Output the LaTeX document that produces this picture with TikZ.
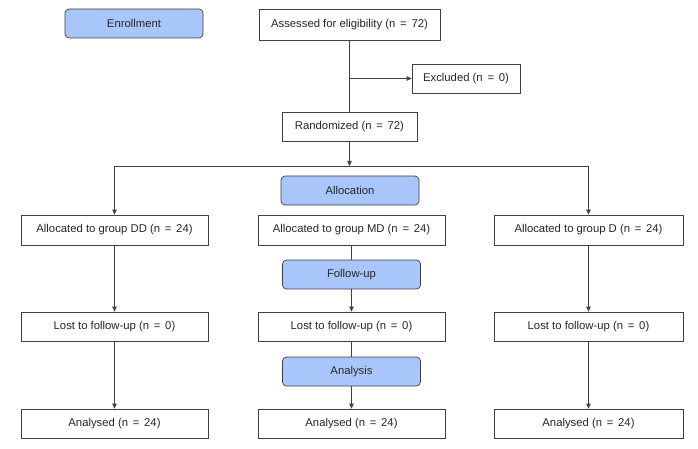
\documentclass[tikz,border=0pt]{standalone}
\usepackage{fontspec}
\setmainfont{Liberation Sans}
\usetikzlibrary{arrows.meta}
\definecolor{phase}{HTML}{A9C6FA}
\definecolor{ln}{HTML}{404040}
\newcommand{\eqn}{\hspace{0.42em}=\hspace{0.42em}}
\begin{document}
\begin{tikzpicture}[x=1pt,y=-1pt,
  box/.style={draw=ln,line width=0.7pt,fill=white,rectangle,inner sep=0pt,font=\fontsize{11.3}{12}\selectfont,text=black!85},
  phasebox/.style={draw=ln,line width=0.7pt,fill=phase,rounded corners=4pt,inner sep=0pt,font=\fontsize{11.3}{12}\selectfont,text=black!85,minimum width=138pt,minimum height=29pt},
  conn/.style={draw=ln,line width=0.7pt},
  arr/.style={conn,-{Triangle[length=5pt,width=4.5pt]}}]
\useasboundingbox (0,0) rectangle (698,449);
\node[phasebox] (enr) at (134,23.5) {Enrollment};
\node[box,minimum width=181pt,minimum height=31pt] (ass) at (349.5,24.5) {Assessed for eligibility (n\eqn 72)};
\node[box,minimum width=108pt,minimum height=29pt] (exc) at (466,78.5) {Excluded (n\eqn 0)};
\node[box,minimum width=135pt,minimum height=29pt] (ran) at (349.5,126.5) {Randomized (n\eqn 72)};
\coordinate (split) at (349.5,166);
\coordinate (sl) at (114.5,166);
\coordinate (sr) at (588.5,166);
\coordinate (ex) at (349.5,78.5);
\node[phasebox] (alloc) at (350,190.5) {Allocation};
\node[box,minimum width=187pt,minimum height=30pt] (a1) at (114.5,230) {Allocated to group DD (n\eqn 24)};
\node[box,minimum width=187pt,minimum height=30pt] (a2) at (351.5,230) {Allocated to group MD (n\eqn 24)};
\node[box,minimum width=189pt,minimum height=30pt] (a3) at (588.5,230) {Allocated to group D (n\eqn 24)};
\node[phasebox] (fol) at (351.5,274.5) {Follow-up};
\node[box,minimum width=187pt,minimum height=29pt] (l1) at (114.5,326.5) {Lost to follow-up (n\eqn 0)};
\node[box,minimum width=187pt,minimum height=29pt] (l2) at (351.5,326.5) {Lost to follow-up (n\eqn 0)};
\node[box,minimum width=189pt,minimum height=29pt] (l3) at (588.5,326.5) {Lost to follow-up (n\eqn 0)};
\node[phasebox] (ana) at (351.5,371.5) {Analysis};
\node[box,minimum width=187pt,minimum height=29pt] (r1) at (114.5,423.5) {Analysed (n\eqn 24)};
\node[box,minimum width=187pt,minimum height=29pt] (r2) at (351.5,423.5) {Analysed (n\eqn 24)};
\node[box,minimum width=189pt,minimum height=29pt] (r3) at (588.5,423.5) {Analysed (n\eqn 24)};
\draw[conn] (ass) -- (ran);
\draw[arr] (ex) -- (exc);
\draw[arr] (ran) -- (split);
\draw[conn] (sl) -- (sr);
\draw[arr] (sl) -- (a1);
\draw[arr] (sr) -- (a3);
\draw[conn] (a2) -- (fol);
\draw[arr] (fol) -- (l2);
\draw[conn] (l2) -- (ana);
\draw[arr] (ana) -- (r2);
\draw[arr] (a1) -- (l1);
\draw[arr] (l1) -- (r1);
\draw[arr] (a3) -- (l3);
\draw[arr] (l3) -- (r3);
\end{tikzpicture}
\end{document}
